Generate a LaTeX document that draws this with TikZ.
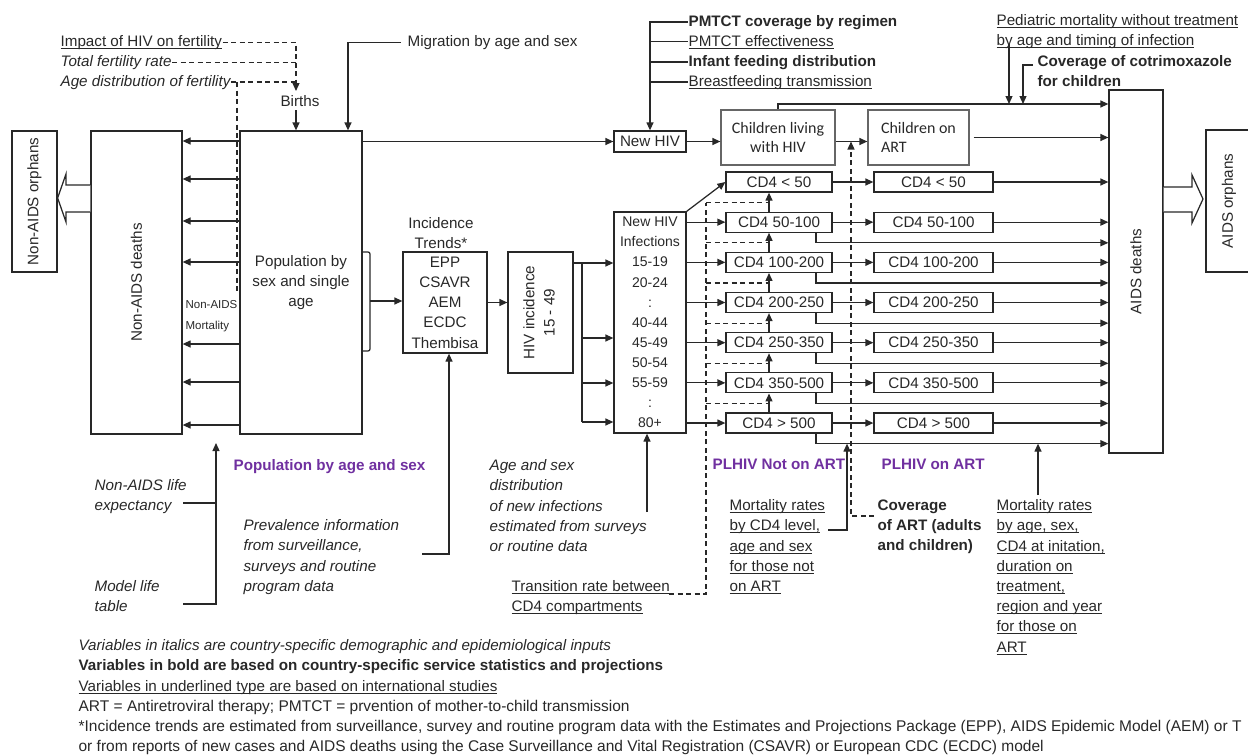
\documentclass[tikz,border=0pt]{standalone}
\usepackage{fontspec}
\usepackage{graphicx}
\setmainfont{Liberation Sans}
\newfontfamily\calfont{Carlito}
\usetikzlibrary{arrows.meta,calc}
\definecolor{ink}{RGB}{40,40,40}
\definecolor{plhiv}{RGB}{112,48,160}
\newcommand\basefont{\fontsize{15.2}{20.2}\selectfont}
\newsavebox\ulbox
\newcommand\undl[1]{\sbox\ulbox{#1}\rlap{\rule[-2.4pt]{\wd\ulbox}{0.9pt}}\usebox\ulbox}

\begin{document}
\begin{tikzpicture}[x=1pt,y=-1pt,color=ink,line width=1.25pt,font=\basefont,
  >={Triangle[length=8pt,width=7pt]},
  blk/.style={draw,inner sep=0pt,align=center},
  cdbox/.style={blk,minimum height=20pt},
  kidbox/.style={blk,draw=gray!80!black,minimum height=55pt,font=\calfont\fontsize{16}{19.5}\selectfont},
  lbl/.style={inner sep=0pt,anchor=north west,align=left},
  txt/.style={inner sep=0pt,anchor=base west},
  it/.style={font=\basefont\itshape},
  bf/.style={font=\basefont\bfseries},
  purp/.style={txt,text=plhiv,font=\basefont\bfseries},
  dsh/.style={dash pattern=on 5pt off 3.5pt}]
\useasboundingbox (0,0) rectangle (1248,755);

% demography part
\node[blk,minimum width=45pt,minimum height=141pt] (naorph) at (34.5,201.5) {\rotatebox{90}{Non-AIDS orphans}};
\node[blk,minimum width=91pt,minimum height=303pt] (nadeath) at (136.5,282.5) {\rotatebox{90}{Non-AIDS deaths}};
\node[blk,minimum width=122pt,minimum height=303pt] (pop) at (301,282.5) {Population by\\sex and single\\age};
\node[inner sep=3pt] (births) at (300,101) {Births};
\node[txt] (fimp) at (60,46.5) {\undl{Impact of HIV on fertility}};
\node[txt,it] (ftfr) at (60,66.5) {Total fertility rate};
\node[txt,it] (fage) at (60,86) {Age distribution of fertility};
\node[txt] (mig) at (407,46.5) {Migration by age and sex};
\node[lbl,font=\fontsize{11.5}{21}\selectfont] (namort) at (185,299.5) {Non-AIDS\\Mortality};
\node[lbl,it] (lifeexp) at (94,479) {Non-AIDS life\\expectancy};
\node[lbl,it] (mlt) at (94,580) {Model life\\table};
\node[purp] (popage) at (233,470.5) {Population by age and sex};

\coordinate (bin) at (296,91);
\coordinate (fdrop) at (237,293);
\coordinate (migdn) at (348,0);
\coordinate (lt1) at (183,503);
\coordinate (lt2) at (183,604);
\coordinate (ltup) at (216,443);

\draw[dsh,->] (fimp.east) -| (bin);
\draw[dsh] (ftfr.east) -- (ftfr.east -| bin);
\draw[dsh] (fage.east) -- (fage.east -| bin);
\draw[dsh] (fage.east -| fdrop) -- (fdrop);
\draw[->] (births.south -| bin) -- (pop.north -| bin);
\draw[->] ([xshift=-6pt]mig.west) -| (pop.north -| migdn);
\foreach \y in {141,179,221,262,344,382,425}
  \draw[->] (pop.west |- 0,\y) -- (nadeath.east |- 0,\y);
\draw (lt1) -- (lt1 -| ltup);
\draw[->] (lt2) -| (ltup);
\draw[fill=white] (nadeath.west |- 0,185) -- (66,185) -- (66,174) -- (naorph.east |- 0,198)
  -- (66,222) -- (66,212) -- (nadeath.west |- 0,212);

% incidence part
\node[anchor=north,inner sep=0pt,align=center] (inctitle) at (441,217) {Incidence\\Trends*};
\node[blk,minimum width=84pt,minimum height=101pt] (inc) at (445,302.5) {EPP\\CSAVR\\AEM\\ECDC\\Thembisa};
\node[blk,minimum width=65pt,minimum height=121pt] (hivinc) at (540.5,312.5)
  {\rotatebox{90}{\begin{tabular}{@{}c@{}}HIV incidence\\15 - 49\end{tabular}}};
\node[blk,minimum width=72pt,minimum height=221pt,font=\fontsize{14}{20.1}\selectfont] (newinf) at (650,322.5)
  {New HIV\\Infections\\15-19\\20-24\\:\\40-44\\45-49\\50-54\\55-59\\:\\80+};
\node[lbl,it] (prev) at (243,519) {Prevalence information\\from surveillance,\\surveys and routine\\program data};
\node[lbl,it] (agedist) at (489,459) {Age and sex\\distribution\\of new infections\\estimated from surveys\\or routine data};

\coordinate (brk) at (370,301);
\coordinate (br) at (582,263);
\coordinate (prevout) at (422,554);
\coordinate (agein) at (647,512);

\draw[rounded corners=2pt] (pop.east |- 0,252) -- (370,252) -- (370,351) -- (pop.east |- 0,351);
\draw[->] (brk) -- (inc.west |- brk);
\draw[->] (inc.east) -- (hivinc.west |- inc.east);
\draw (hivinc.east |- br) -- (br) -- (br |- 0,422);
\foreach \y in {263,338,383,422}
  \draw[->] (br |- 0,\y) -- (newinf.west |- 0,\y);
\draw[->] (prevout) -| (inc.south -| 449,0);
\draw[->] (agein) -- (agein |- newinf.south);

% children
\node[blk,minimum width=72pt,minimum height=21pt] (newhiv) at (650,141.5) {New HIV};
\node[txt,bf] (pm1) at (688,26) {PMTCT coverage by regimen};
\node[txt] (pm2) at (688,46) {\undl{PMTCT effectiveness}};
\node[txt,bf] (pm3) at (688,66) {Infant feeding distribution};
\node[txt] (pm4) at (688,86) {\undl{Breastfeeding transmission}};
\node[kidbox,minimum width=114pt] (chl) at (778,137.5) {Children living\\with HIV};
\node[kidbox,minimum width=101pt,align=left] (chart) at (918.5,137.5) {Children on\\ART};
\node[lbl] (ped) at (996,14) {\undl{Pediatric mortality without treatment}\\\undl{by age and timing of infection}};
\node[lbl,bf] (cot) at (1037,55) {Coverage of cotrimoxazole\\for children};

\coordinate (pedin) at (1009,44);
\coordinate (cotin) at (1033,65);
\coordinate (cotdn) at (1023,104);

\draw[->] (pop.east |- newhiv.west) -- (newhiv.west);
\draw[->] (pm1.west) -| (newhiv.north);
\foreach \n in {pm2,pm3,pm4}
  \draw (\n.west) -- (\n.west -| newhiv.north);
\draw[->] (newhiv.east) -- (chl.west |- newhiv.east);
\draw[->] (chl.east |- newhiv.east) -- (chart.west |- newhiv.east);

% AIDS deaths
\node[blk,minimum width=54pt,minimum height=363pt] (aidsd) at (1136,271.5) {\rotatebox{90}{AIDS deaths}};
\node[blk,minimum width=46pt,minimum height=142pt] (aorph) at (1229,201) {\rotatebox{90}{AIDS orphans}};
\draw[->] ([xshift=4pt]chart.east) -- (aidsd.west |- chart.east);
\draw[->] (chl.north) |- (aidsd.west |- cotdn);
\draw[->] (pedin) -- (pedin |- cotdn);
\draw[->] (cotin) -| (cotdn);
\draw[fill=white] (aidsd.east |- 0,187) -- (1192,187) -- (1192,175) -- (1203,199)
  -- (1192,223) -- (1192,212) -- (aidsd.east |- 0,212);

% CD4 compartments
\foreach \lab [count=\i] in {CD4 < 50,CD4 50-100,CD4 100-200,CD4 200-250,CD4 250-350,CD4 350-500,CD4 > 500}{
  \pgfmathsetmacro\yy{182+40.17*(\i-1)}
  \node[cdbox,minimum width=106pt] (a\i) at (779,\yy) {\lab};
  \node[cdbox,minimum width=119pt] (b\i) at (933.5,\yy) {\lab};
}
\node[purp] (pnot) at (712,469.5) {PLHIV Not on ART};
\node[purp] (pon) at (881,469.5) {PLHIV on ART};
\node[lbl] (trtxt) at (511,580) {\undl{Transition rate between}\\\undl{CD4 compartments}};
\node[lbl] (mnart) at (729,499) {\undl{Mortality rates}\\\undl{by CD4 level,}\\\undl{age and sex}\\\undl{for those not}\\\undl{on ART}};
\node[lbl,bf] (covart) at (877,499) {Coverage\\of ART (adults\\and children)};
\node[lbl] (mart) at (996,499) {\undl{Mortality rates}\\\undl{by age, sex,}\\\undl{CD4 at initation,}\\\undl{duration on}\\\undl{treatment,}\\\undl{region and year}\\\undl{for those on}\\\undl{ART}};

\coordinate (prog) at (769,0);
\coordinate (dth) at (816,0);
\coordinate (trx) at (706,594);
\coordinate (trout) at (669,594);
\coordinate (covin) at (874,516);
\coordinate (covx) at (851,0);
\coordinate (mnout) at (828,530);
\coordinate (mnx) at (847,0);
\coordinate (martout) at (1038,495);

\draw[->] (newinf.north east) -- (a1.west);
\foreach \i in {2,...,7}
  \draw[->] (newinf.east |- a\i.west) -- (a\i.west);
\foreach \i in {1,...,7}{
  \draw[->] (a\i.east) -- (b\i.west);
  \draw[->] (b\i.east) -- (aidsd.west |- b\i.east);
}
\foreach \i/\j in {1/2,2/3,3/4,4/5,5/6,6/7}{
  \draw[->] (a\j.north -| prog) -- (a\i.south -| prog);
  \draw[->] (a\j.south -| dth) |- ($(aidsd.west |- a\j.south)+(0,10)$);
  \draw[dsh] ($(trx |- a\i.south)+(0,10)$) -- ($(prog |- a\i.south)+(0,10)$);
}
\draw[dsh] (trout) -- (trx) -- ($(trx |- a1.south)+(0,10)$);
\draw[dsh,->] (covin) -| (covx |- newhiv.east);
\draw[->] (mnout) -| ($(mnx |- a7.south)+(0,10)$);
\draw[->] (martout) -- ($(martout |- a7.south)+(0,10)$);

% notes
\node[lbl] (notes) at (78,639) {\textit{Variables in italics are country-specific demographic and epidemiological inputs}\\
  \textbf{Variables in bold are based on country-specific service statistics and projections}\\
  \undl{Variables in underlined type are based on international studies}\\
  {\fontsize{15.5}{20.2}\selectfont ART = Antiretroviral therapy; PMTCT = prvention of mother-to-child transmission}\\
  {\fontsize{15.5}{20.2}\selectfont *Incidence trends are estimated from surveillance, survey and routine program data with the Estimates and Projections Package (EPP), AIDS Epidemic Model (AEM) or T}\\
  {\fontsize{15.5}{20.2}\selectfont or from reports of new cases and AIDS deaths using the Case Surveillance and Vital Registration (CSAVR) or European CDC (ECDC) model}};
\end{tikzpicture}
\end{document}
